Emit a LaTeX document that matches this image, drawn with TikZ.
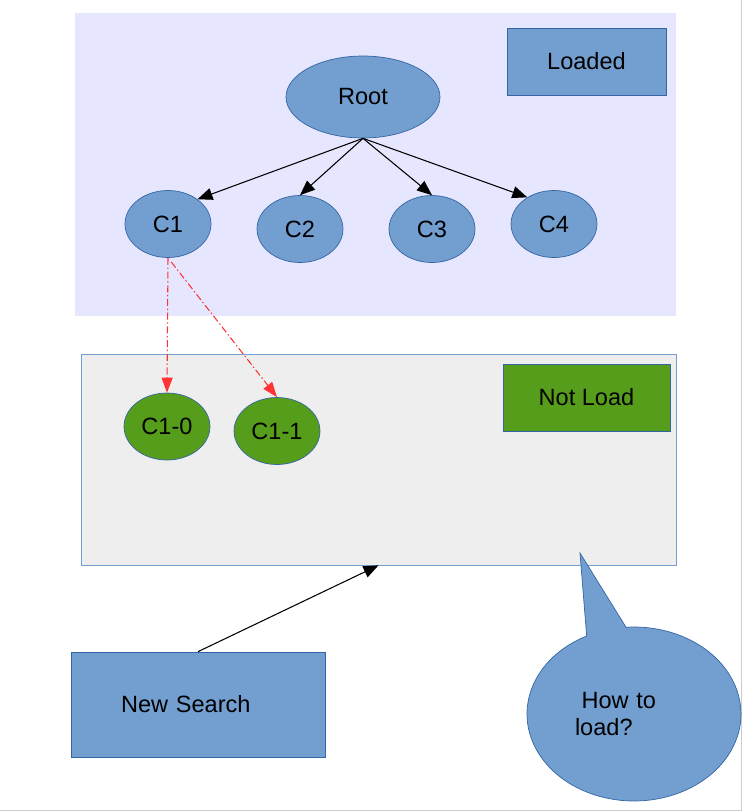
\documentclass[tikz,border=0pt]{standalone}
\usepackage{fontspec}
\setmainfont{Liberation Sans}
\usetikzlibrary{shapes.geometric,shapes.callouts,arrows.meta}
\definecolor{boxblue}{HTML}{729FCF}
\definecolor{lineblue}{HTML}{3465A4}
\definecolor{leafgreen}{HTML}{579D1C}
\definecolor{lavender}{HTML}{E6E6FF}
\definecolor{paleg}{HTML}{EEEEEE}
\definecolor{redline}{HTML}{FF3333}

\begin{document}
\begin{tikzpicture}[x=0.02cm,y=-0.02cm,
  font=\fontsize{13.4}{15.3}\selectfont,
  blob/.style={ellipse,draw=lineblue,fill=boxblue,minimum width=1.72cm,minimum height=1.34cm,inner sep=0pt},
  leaf/.style={blob,fill=leafgreen},
  tag/.style={rectangle,draw=lineblue,fill=boxblue,minimum height=1.34cm},
  tree/.style={-{Triangle[length=0.3cm,width=0.24cm]},black,line width=0.6pt},
  lazy/.style={-{Triangle[length=0.3cm,width=0.22cm]},redline,line width=0.6pt,dash pattern=on 4pt off 1.5pt on 0.8pt off 1.5pt}]
\useasboundingbox (0,0) rectangle (748,812);
\draw[gray!40] (741,0) -- (741,810) -- (0,810);
\node[fill=lavender,minimum width=12.02cm,minimum height=6.06cm,inner sep=0pt] (LoadedArea) at (375.5,164.5) {};
\node[draw=boxblue,fill=paleg,minimum width=11.9cm,minimum height=4.22cm,inner sep=0pt] (NotLoad) at (378.5,459.5) {};
\node[tag,minimum width=3.18cm] (LoadedTag) at (586.5,61.5) {Loaded};
\node[tag,fill=leafgreen,minimum width=3.34cm] (NotLoadTag) at (586.5,397.5) {Not Load};
% loaded tree
\node[blob,minimum width=3.08cm,minimum height=1.64cm] (Root) at (363,97) {Root};
\node[blob] (C1) at (168,224) {C1};
\node[blob] (C2) at (300,229) {C2};
\node[blob] (C3) at (432,229) {C3};
\node[blob] (C4) at (554,224) {C4};
\draw[tree] (Root.south) -- (C1.40);
\draw[tree] (Root.south) -- (C2.north);
\draw[tree] (Root.south) -- (C3.north);
\draw[tree] (Root.south) -- (C4.135);
% children not loaded yet
\node[leaf] (C10) at (167,426.5) {C1-0};
\node[leaf] (C11) at (277,431) {C1-1};
\draw[lazy] (C1.south) -- (C10.north);
\draw[lazy,shorten <=3pt] (C1.south) -- (C11.north);
\node[tag,minimum width=5.08cm,minimum height=2.1cm,text width=3.08cm,inner xsep=1cm,align=left] (NewSearch) at (198,704.5) {New Search};
\draw[tree] (NewSearch.north) -- (NotLoad.south);
\coordinate (tip) at (580,553);
\node[ellipse callout,draw=lineblue,fill=boxblue,minimum width=4.28cm,minimum height=3.48cm,callout absolute pointer={(tip)},callout pointer arc=22,text width=2.36cm,align=left] (Ask) at (634,714) {\hspace*{0.13cm}How to\\load?};
\end{tikzpicture}
\end{document}
